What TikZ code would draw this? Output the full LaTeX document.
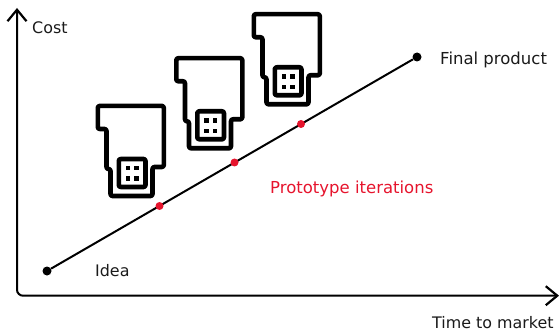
\documentclass[tikz,border=0pt]{standalone}
\usepackage{fontspec}
\setmainfont{DejaVu Sans}
\usetikzlibrary{arrows.meta}
\definecolor{abbred}{HTML}{E6142D}
\definecolor{inkk}{HTML}{1A1A1A}
\tikzset{
  x=1pt,y=-1pt,
  axisline/.style={line width=2pt,black,rounded corners=6pt,{Straight Barb[length=11.5pt,width=19pt,line width=2.2pt]}-{Straight Barb[length=11.5pt,width=19pt,line width=2.2pt]}},
  enddot/.style={circle,fill=black,inner sep=0pt,minimum size=9pt},
  iterdot/.style={circle,fill=abbred,inner sep=0pt,minimum size=8pt},
  trend/.style={line width=2pt,black},
  label/.style={inkk,font=\fontsize{15.9}{18}\selectfont,inner sep=0pt,anchor=west},
  widerlabel/.style={label,font=\fontsize{16.5}{18}\selectfont},
  iconline/.style={line width=4.6pt,black,line join=round,rounded corners=2pt},
  pics/card/.style={code={
    \draw[iconline] (97.8,105.9) -- (163.8,105.9) -- (163.8,167) -- (152.5,167) -- (152.5,196) -- (110.5,196) -- (110.5,169) -- (106.5,169) -- (106.5,129) -- (97.8,129) -- cycle;
    \draw[iconline,fill=white] (118.8,159) rectangle (145.5,187);
    \foreach \px in {127.8,136.5} \foreach \py in {168.3,178.7}
      \fill (\px-2.2,\py-2.2) rectangle (\px+2.2,\py+2.2);
  }}
}
\begin{document}
\begin{tikzpicture}
\useasboundingbox (0,0) rectangle (559,331);
\coordinate (ytip) at (17,8);
\coordinate (corner) at (17,295.7);
\coordinate (xtip) at (559,295.7);
\draw[axisline] (ytip) -- (corner) -- (xtip);
\node[enddot] (idea) at (47,271) {};
\node[enddot] (final) at (417,57) {};
\draw[trend] (idea) -- (final);
\node[iterdot] (p1) at (159.5,206) {};
\node[iterdot] (p2) at (234.5,162.5) {};
\node[iterdot] (p3) at (301,124) {};
\pic at (0,0) {card};
\pic at (78.5,-47.7) {card};
\pic at (156,-91.7) {card};
\node[label] (cost) at (32,27.5) {Cost};
\node[widerlabel] (finallabel) at (440,59.5) {Final product};
\node[widerlabel,text=abbred] (protolabel) at (270,188.8) {Prototype iterations};
\node[label] (idealabel) at (95,271) {Idea};
\node[label] (timelabel) at (432,322.5) {Time to market};
\end{tikzpicture}
\end{document}
